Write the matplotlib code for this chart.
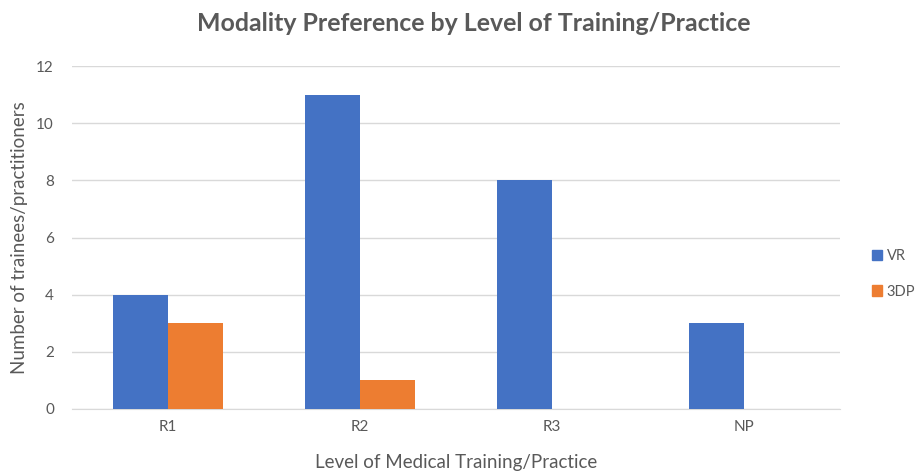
import matplotlib
matplotlib.use("Agg")
import matplotlib.pyplot as plt
import numpy as np
from matplotlib.patches import Patch

categories = ["R1", "R2", "R3", "NP"]
vr = [4, 11, 8, 3]
dp3 = [3, 1, 0, 0]
yticks = [0, 2, 4, 6, 8, 10, 12]

plt.rcParams['font.family'] = ['Lato', 'DejaVu Sans']
fig = plt.figure(figsize=(9.17, 4.72), dpi=100)
ax = fig.add_axes([0.0785, 0.1335, 0.8375, 0.7265])

x = np.arange(len(categories))
w = 0.285
blue = "#4472C4"
orange = "#ED7D31"
ax.bar(x - w/2, vr, w, color=blue, zorder=3)
ax.bar(x + w/2, dp3, w, color=orange, zorder=3)

ax.set_xlim(-0.5, len(categories) - 0.5)
ax.set_ylim(0, 12)
ax.set_yticks(yticks)
ax.set_xticks(x)
ax.set_xticklabels(categories)
ax.yaxis.grid(True, color="#D9D9D9", linewidth=1, zorder=0)
for s in ["top", "right", "left"]:
    ax.spines[s].set_visible(False)
ax.spines["bottom"].set_color("#D9D9D9")
ax.tick_params(axis="both", length=0, colors="#595959", labelsize=11)
ax.tick_params(axis="x", pad=8)
ax.tick_params(axis="y", pad=13)

ax.set_ylabel("Number of trainees/practitioners", color="#595959", fontsize=13.5, labelpad=6)
ax.set_xlabel("Level of Medical Training/Practice", color="#595959", fontsize=13.5, labelpad=14)
fig.suptitle("Modality Preference by Level of Training/Practice", x=0.517, y=0.975,
             fontsize=17.9, fontweight="bold", color="#595959")

handles = [Patch(color=blue, label="VR"), Patch(color=orange, label="3DP")]
leg = fig.legend(handles=handles, loc="center left", bbox_to_anchor=(0.951, 0.42),
                 frameon=False, fontsize=10.5, handlelength=0.7, handleheight=0.7,
                 labelspacing=1.5, handletextpad=0.3, borderaxespad=0, borderpad=0)
for t in leg.get_texts():
    t.set_color("#595959")

fig.savefig("out.png", dpi=100)
